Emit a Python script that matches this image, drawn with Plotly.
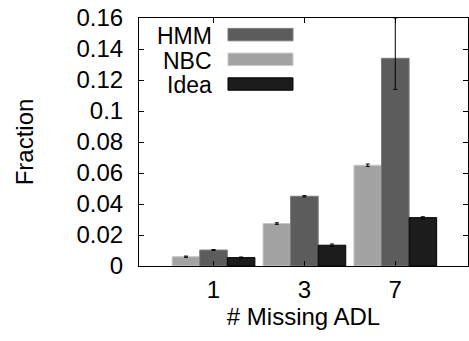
import plotly.graph_objects as go

categories = ["1", "3", "7"]
series_names = ["NBC", "HMM", "Idea"]
nbc = [0.006, 0.0274, 0.0650]
hmm = [0.0103, 0.0450, 0.1340]
idea = [0.0054, 0.0134, 0.0312]
nbc_err = [0.0004, 0.0005, 0.0008]
hmm_err_plus = [0.0003, 0.0004, 0.026]
hmm_err_minus = [0.0003, 0.0004, 0.020]
idea_err = [0.0004, 0.0008, 0.0006]
colors = {"NBC": "#a3a3a3", "HMM": "#5c5c5c", "Idea": "#1c1c1c"}
outline = {"NBC": "#c8c8c8", "HMM": "#7a7a7a", "Idea": "#000000"}
yticks = [0, 0.02, 0.04, 0.06, 0.08, 0.1, 0.12, 0.14, 0.16]
ytick_text = ["0", "0.02", "0.04", "0.06", "0.08", "0.1", "0.12", "0.14", "0.16"]
legend_order = ["HMM", "NBC", "Idea"]

FONT = "Liberation Sans, Arial, sans-serif"

fig = go.Figure()
data = {"NBC": (nbc, dict(type="data", array=nbc_err)),
        "HMM": (hmm, dict(type="data", symmetric=False, array=hmm_err_plus, arrayminus=hmm_err_minus)),
        "Idea": (idea, dict(type="data", array=idea_err))}
for name in series_names:
    vals, err = data[name]
    err.update(color="#000000", thickness=1, width=2)
    fig.add_trace(go.Bar(
        x=categories, y=vals, name=name,
        marker=dict(color=colors[name], line=dict(color=outline[name], width=1)),
        error_y=err, showlegend=False))

# custom legend (text then box on its right, like gnuplot)
for i, name in enumerate(legend_order):
    ytop = 0.958 - i * 0.0996
    fig.add_annotation(xref="paper", yref="paper", x=0.225, y=ytop - 0.030,
                       text=name, showarrow=False, xanchor="right", yanchor="middle",
                       height=20, valign="middle", borderpad=0,
                       font=dict(family=FONT, size=23, color="#000"))
    fig.add_shape(type="rect", xref="paper", yref="paper",
                  x0=0.2705, x1=0.468, y0=ytop - 0.050, y1=ytop,
                  fillcolor=colors[name], line=dict(color=outline[name], width=1))

fig.update_layout(
    width=469, height=341,
    margin=dict(l=139, r=1, t=18, b=75),
    plot_bgcolor="white", paper_bgcolor="white",
    barmode="group", bargap=0.09, bargroupgap=0,
    font=dict(family=FONT, size=24, color="#000"),
)
fig.update_xaxes(
    type="category", range=[-0.82, 2.80],
    showline=True, linecolor="#000", linewidth=1, mirror="ticks",
    ticks="inside", ticklen=5, tickcolor="#000",
    showgrid=False, tickfont=dict(size=24), ticklabelstandoff=2,
    title=dict(text="# Missing ADL", font=dict(size=24), standoff=4),
)
fig.update_yaxes(
    range=[0, 0.16], tickvals=yticks, ticktext=ytick_text,
    showline=True, linecolor="#000", linewidth=1, mirror="ticks",
    ticks="inside", ticklen=5, tickcolor="#000",
    showgrid=False, zeroline=False, tickfont=dict(size=24), ticklabelstandoff=10,
    title=dict(text="Fraction", font=dict(size=24), standoff=36),
)
fig.write_html("out.html", config={"displayModeBar": False},
               post_script="document.body.style.margin='0px';")
